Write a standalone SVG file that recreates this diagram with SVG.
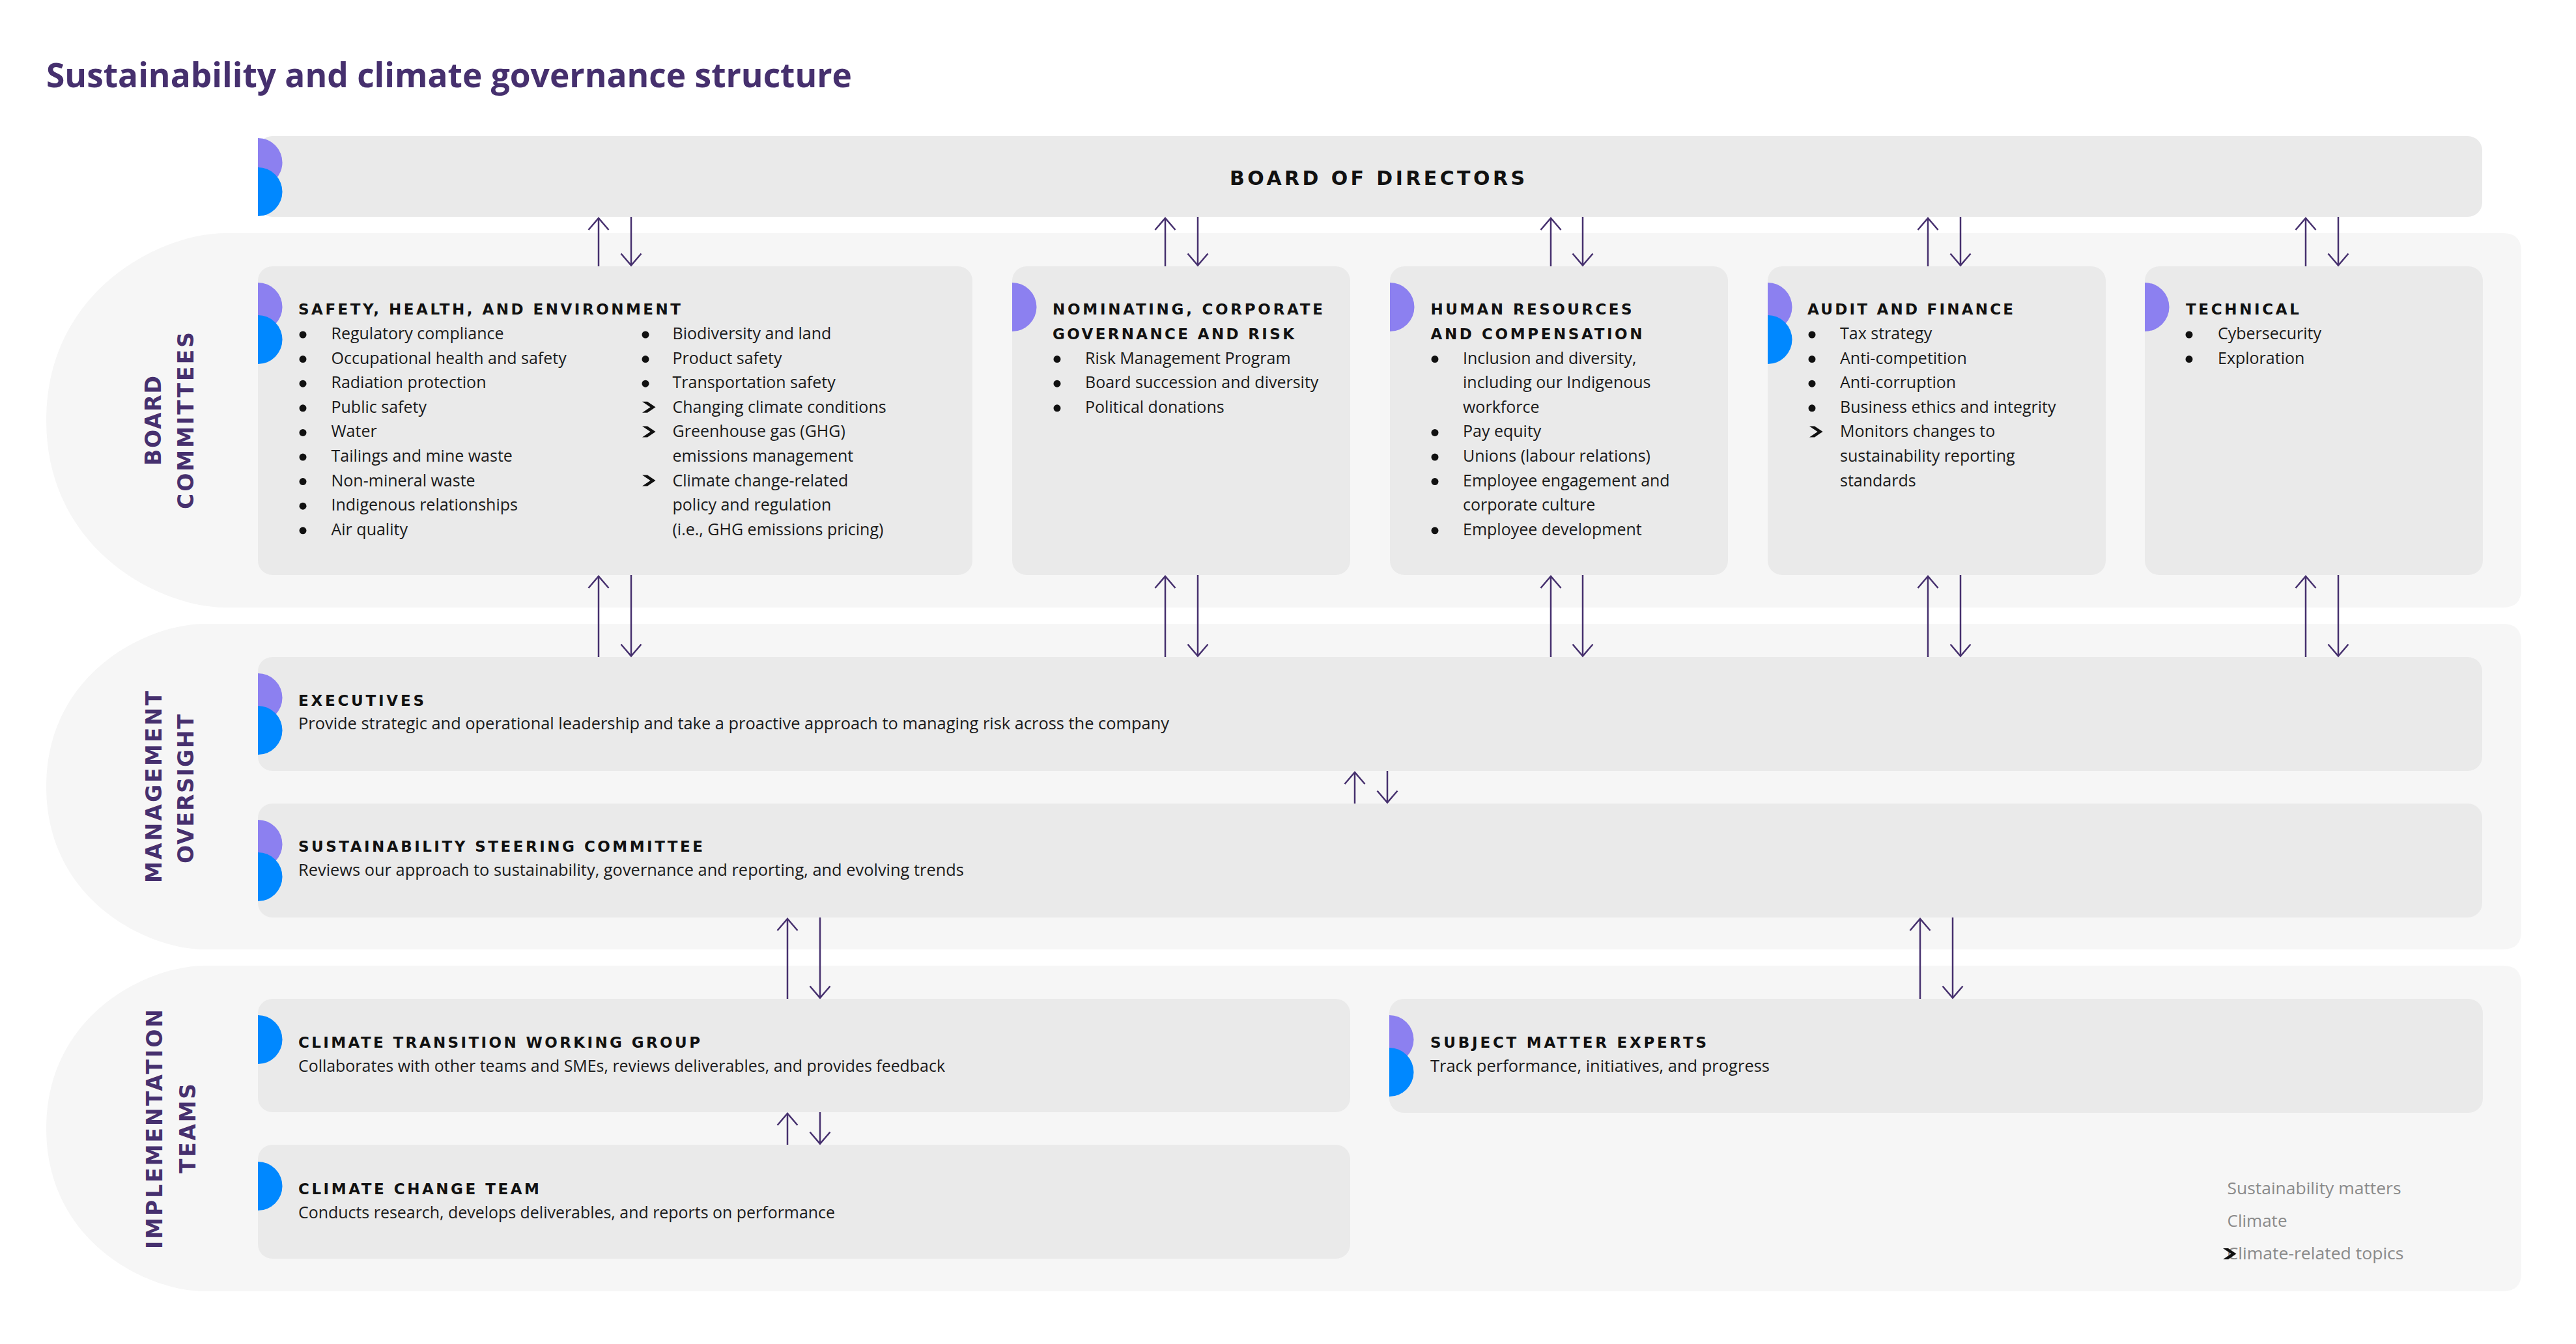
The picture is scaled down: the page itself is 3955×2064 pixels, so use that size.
<svg xmlns="http://www.w3.org/2000/svg" width="3955" height="2064" viewBox="0 0 3955 2064">
<style>
.band{fill:#f6f6f6}
.box{fill:#eaeaea}
.p{fill:#8c80f0}
.b{fill:#0088ff}
.h{font-family:"DejaVu Sans",Inter,"Liberation Sans",sans-serif;font-weight:700;font-size:23px;fill:#111}
.hb{font-family:"DejaVu Sans",Inter,"Liberation Sans",sans-serif;font-weight:700;font-size:30px;fill:#111}
.t{font-family:"Open Sans","Liberation Sans",sans-serif;font-weight:400;font-size:25px;fill:#1a1a1a}
.lg{font-family:"Open Sans","Liberation Sans",sans-serif;font-weight:400;font-size:25.5px;fill:#8a8a8a}
.lbl{font-family:"DejaVu Sans",Inter,"Liberation Sans",sans-serif;font-weight:700;font-size:33px;fill:#46306e}
.title{font-family:"Open Sans","Liberation Sans",sans-serif;font-weight:700;font-size:52px;fill:#46306e}
.dot{fill:#111}
.conn line{stroke:#46306e;stroke-width:2.5;fill:none;marker-end:url(#ah)}
</style>
<defs>
<marker id="ah" markerUnits="userSpaceOnUse" markerWidth="40" markerHeight="40" refX="20" refY="20" orient="auto" overflow="visible">
<path d="M2,4.5 L20,20 L2,35.5" fill="none" stroke="#46306e" stroke-width="2.5"/>
</marker>
<path id="chev" d="M0,0 H8 L20.5,8.5 L8,17 H0 L12.5,8.5 Z" fill="#111"/>
</defs>
<rect width="3955" height="2064" fill="#fff"/>
<text class="title" x="71" y="134" textLength="1237" lengthAdjust="spacingAndGlyphs">Sustainability and climate governance structure</text>

<g id="bands">
<path class="band" d="M346,358 H3843 Q3871,358 3871,386 V905 Q3871,933 3843,933 H346 C246,933 71,845 71,645.5 C71,446 246,358 346,358 Z"/>
<path class="band" d="M315,958 H3843 Q3871,958 3871,986 V1430 Q3871,1458 3843,1458 H315 C225,1458 71,1382 71,1208 C71,1034 225,958 315,958 Z"/>
<path class="band" d="M315,1483 H3843 Q3871,1483 3871,1511 V1955 Q3871,1983 3843,1983 H315 C225,1983 71,1907 71,1733 C71,1559 225,1483 315,1483 Z"/>
<text class="lbl" transform="translate(247,646) rotate(-90)" text-anchor="middle" textLength="138" lengthAdjust="spacing">BOARD</text>
<text class="lbl" transform="translate(297,646) rotate(-90)" text-anchor="middle" textLength="272" lengthAdjust="spacing">COMMITTEES</text>
<text class="lbl" transform="translate(248,1208.5) rotate(-90)" text-anchor="middle" textLength="295" lengthAdjust="spacing">MANAGEMENT</text>
<text class="lbl" transform="translate(297,1211.5) rotate(-90)" text-anchor="middle" textLength="229" lengthAdjust="spacing">OVERSIGHT</text>
<text class="lbl" transform="translate(249,1734) rotate(-90)" text-anchor="middle" textLength="368" lengthAdjust="spacing">IMPLEMENTATION</text>
<text class="lbl" transform="translate(300,1733) rotate(-90)" text-anchor="middle" textLength="138" lengthAdjust="spacing">TEAMS</text>
</g>

<g id="board-of-directors">
<rect class="box" x="396" y="209" width="3415" height="124" rx="22"/>
<path class="p" d="M396,212 A37.5,37.5 0 0 1 396,287 Z"/>
<path class="b" d="M396,257 A37.5,37.5 0 0 1 396,332 Z"/>
<text class="hb" x="1888" y="284" textLength="453" lengthAdjust="spacing">BOARD OF DIRECTORS</text>
</g>

<g id="safety-health-environment">
<rect class="box" x="396" y="409" width="1097" height="474" rx="22"/>
<path class="p" d="M396,434 A37.5,37.5 0 0 1 396,509 Z"/>
<path class="b" d="M396,484 A37.5,37.5 0 0 1 396,559 Z"/>
<text class="h" x="458" y="483.3" textLength="587" lengthAdjust="spacing">SAFETY, HEALTH, AND ENVIRONMENT</text>
<circle class="dot" cx="465" cy="514" r="5.5"/><text class="t" x="508.5" y="521">Regulatory compliance</text>
<circle class="dot" cx="465" cy="551.6" r="5.5"/><text class="t" x="508.5" y="558.6">Occupational health and safety</text>
<circle class="dot" cx="465" cy="589.2" r="5.5"/><text class="t" x="508.5" y="596.2">Radiation protection</text>
<circle class="dot" cx="465" cy="626.8" r="5.5"/><text class="t" x="508.5" y="633.8">Public safety</text>
<circle class="dot" cx="465" cy="664.4" r="5.5"/><text class="t" x="508.5" y="671.4">Water</text>
<circle class="dot" cx="465" cy="702" r="5.5"/><text class="t" x="508.5" y="709">Tailings and mine waste</text>
<circle class="dot" cx="465" cy="739.6" r="5.5"/><text class="t" x="508.5" y="746.6">Non-mineral waste</text>
<circle class="dot" cx="465" cy="777.2" r="5.5"/><text class="t" x="508.5" y="784.2">Indigenous relationships</text>
<circle class="dot" cx="465" cy="814.8" r="5.5"/><text class="t" x="508.5" y="821.8">Air quality</text>
<circle class="dot" cx="991" cy="514" r="5.5"/><text class="t" x="1032.5" y="521">Biodiversity and land</text>
<circle class="dot" cx="991" cy="551.6" r="5.5"/><text class="t" x="1032.5" y="558.6">Product safety</text>
<circle class="dot" cx="991" cy="589.2" r="5.5"/><text class="t" x="1032.5" y="596.2">Transportation safety</text>
<use href="#chev" x="986" y="616.8"/><text class="t" x="1032.5" y="633.8">Changing climate conditions</text>
<use href="#chev" x="986" y="654.4"/><text class="t" x="1032.5" y="671.4">Greenhouse gas (GHG)</text>
<text class="t" x="1032.5" y="709">emissions management</text>
<use href="#chev" x="986" y="729.6"/><text class="t" x="1032.5" y="746.6">Climate change-related</text>
<text class="t" x="1032.5" y="784.2">policy and regulation</text>
<text class="t" x="1032.5" y="821.8">(i.e., GHG emissions pricing)</text>
</g>

<g id="nominating-governance-risk">
<rect class="box" x="1554" y="409" width="519" height="474" rx="22"/>
<path class="p" d="M1554,434 A37.5,37.5 0 0 1 1554,509 Z"/>
<text class="h" x="1616" y="483.3" textLength="415" lengthAdjust="spacing">NOMINATING, CORPORATE</text>
<text class="h" x="1616" y="520.5" textLength="371" lengthAdjust="spacing">GOVERNANCE AND RISK</text>
<circle class="dot" cx="1623" cy="551.6" r="5.5"/><text class="t" x="1666" y="558.6">Risk Management Program</text>
<circle class="dot" cx="1623" cy="589.2" r="5.5"/><text class="t" x="1666" y="596.2">Board succession and diversity</text>
<circle class="dot" cx="1623" cy="626.8" r="5.5"/><text class="t" x="1666" y="633.8">Political donations</text>
</g>

<g id="human-resources-compensation">
<rect class="box" x="2134" y="409" width="519" height="474" rx="22"/>
<path class="p" d="M2134,434 A37.5,37.5 0 0 1 2134,509 Z"/>
<text class="h" x="2196.5" y="483.3" textLength="309" lengthAdjust="spacing">HUMAN RESOURCES</text>
<text class="h" x="2196.5" y="520.5" textLength="325" lengthAdjust="spacing">AND COMPENSATION</text>
<circle class="dot" cx="2203" cy="551.6" r="5.5"/><text class="t" x="2246" y="558.6">Inclusion and diversity,</text>
<text class="t" x="2246" y="596.2">including our Indigenous</text>
<text class="t" x="2246" y="633.8">workforce</text>
<circle class="dot" cx="2203" cy="664.4" r="5.5"/><text class="t" x="2246" y="671.4">Pay equity</text>
<circle class="dot" cx="2203" cy="702" r="5.5"/><text class="t" x="2246" y="709">Unions (labour relations)</text>
<circle class="dot" cx="2203" cy="739.6" r="5.5"/><text class="t" x="2246" y="746.6">Employee engagement and</text>
<text class="t" x="2246" y="784.2">corporate culture</text>
<circle class="dot" cx="2203" cy="814.8" r="5.5"/><text class="t" x="2246" y="821.8">Employee development</text>
</g>

<g id="audit-finance">
<rect class="box" x="2714" y="409" width="519" height="474" rx="22"/>
<path class="p" d="M2714,434 A37.5,37.5 0 0 1 2714,509 Z"/>
<path class="b" d="M2714,484 A37.5,37.5 0 0 1 2714,559 Z"/>
<text class="h" x="2775" y="483.3" textLength="316" lengthAdjust="spacing">AUDIT AND FINANCE</text>
<circle class="dot" cx="2782" cy="514" r="5.5"/><text class="t" x="2825" y="521">Tax strategy</text>
<circle class="dot" cx="2782" cy="551.6" r="5.5"/><text class="t" x="2825" y="558.6">Anti-competition</text>
<circle class="dot" cx="2782" cy="589.2" r="5.5"/><text class="t" x="2825" y="596.2">Anti-corruption</text>
<circle class="dot" cx="2782" cy="626.8" r="5.5"/><text class="t" x="2825" y="633.8">Business ethics and integrity</text>
<use href="#chev" x="2778" y="654.4"/><text class="t" x="2825" y="671.4">Monitors changes to</text>
<text class="t" x="2825" y="709">sustainability reporting</text>
<text class="t" x="2825" y="746.6">standards</text>
</g>

<g id="technical">
<rect class="box" x="3293" y="409" width="519" height="474" rx="22"/>
<path class="p" d="M3293,434 A37.5,37.5 0 0 1 3293,509 Z"/>
<text class="h" x="3356" y="483.3" textLength="174" lengthAdjust="spacing">TECHNICAL</text>
<circle class="dot" cx="3361" cy="514" r="5.5"/><text class="t" x="3405" y="521">Cybersecurity</text>
<circle class="dot" cx="3361" cy="551.6" r="5.5"/><text class="t" x="3405" y="558.6">Exploration</text>
</g>

<g id="executives">
<rect class="box" x="396" y="1009" width="3415" height="175" rx="22"/>
<path class="p" d="M396,1034 A37.5,37.5 0 0 1 396,1109 Z"/>
<path class="b" d="M396,1084 A37.5,37.5 0 0 1 396,1159 Z"/>
<text class="h" x="458" y="1083.5" textLength="193" lengthAdjust="spacing">EXECUTIVES</text>
<text class="t" x="458" y="1120" textLength="1337" lengthAdjust="spacingAndGlyphs">Provide strategic and operational leadership and take a proactive approach to managing risk across the company</text>
</g>

<g id="sustainability-steering-committee">
<rect class="box" x="396" y="1234" width="3415" height="175" rx="22"/>
<path class="p" d="M396,1259 A37.5,37.5 0 0 1 396,1334 Z"/>
<path class="b" d="M396,1309 A37.5,37.5 0 0 1 396,1384 Z"/>
<text class="h" x="458" y="1308" textLength="621" lengthAdjust="spacing">SUSTAINABILITY STEERING COMMITTEE</text>
<text class="t" x="458" y="1345" textLength="1022" lengthAdjust="spacingAndGlyphs">Reviews our approach to sustainability, governance and reporting, and evolving trends</text>
</g>

<g id="climate-transition-working-group">
<rect class="box" x="396" y="1534" width="1677" height="174" rx="22"/>
<path class="b" d="M396,1559 A37.5,37.5 0 0 1 396,1634 Z"/>
<text class="h" x="458" y="1608.6" textLength="617" lengthAdjust="spacing">CLIMATE TRANSITION WORKING GROUP</text>
<text class="t" x="458" y="1646" textLength="993" lengthAdjust="spacingAndGlyphs">Collaborates with other teams and SMEs, reviews deliverables, and provides feedback</text>
</g>

<g id="climate-change-team">
<rect class="box" x="396" y="1758" width="1677" height="175" rx="22"/>
<path class="b" d="M396,1784 A37.5,37.5 0 0 1 396,1859 Z"/>
<text class="h" x="458" y="1834" textLength="370" lengthAdjust="spacing">CLIMATE CHANGE TEAM</text>
<text class="t" x="458" y="1871" textLength="824" lengthAdjust="spacingAndGlyphs">Conducts research, develops deliverables, and reports on performance</text>
</g>

<g id="subject-matter-experts">
<rect class="box" x="2133" y="1534" width="1679" height="175" rx="22"/>
<path class="p" d="M2133,1559 A37.5,37.5 0 0 1 2133,1634 Z"/>
<path class="b" d="M2133,1609 A37.5,37.5 0 0 1 2133,1684 Z"/>
<text class="h" x="2196" y="1608.6" textLength="424" lengthAdjust="spacing">SUBJECT MATTER EXPERTS</text>
<text class="t" x="2196" y="1646" textLength="521" lengthAdjust="spacingAndGlyphs">Track performance, initiatives, and progress</text>
</g>

<g id="legend">
<text class="lg" x="3419.5" y="1833.6" textLength="267" lengthAdjust="spacingAndGlyphs">Sustainability matters</text>
<text class="lg" x="3419.5" y="1883.7" textLength="92" lengthAdjust="spacingAndGlyphs">Climate</text>
<text class="lg" x="3419.5" y="1933.8" textLength="271" lengthAdjust="spacingAndGlyphs">Climate-related topics</text>
<use href="#chev" x="3413" y="1917"/>
</g>

<g id="connectors" class="conn">
<line x1="919" y1="409" x2="919" y2="335"/><line x1="969" y1="333" x2="969" y2="407.5"/>
<line x1="1789" y1="409" x2="1789" y2="335"/><line x1="1839" y1="333" x2="1839" y2="407.5"/>
<line x1="2381" y1="409" x2="2381" y2="335"/><line x1="2430" y1="333" x2="2430" y2="407.5"/>
<line x1="2960" y1="409" x2="2960" y2="335"/><line x1="3010" y1="333" x2="3010" y2="407.5"/>
<line x1="3540" y1="409" x2="3540" y2="335"/><line x1="3590" y1="333" x2="3590" y2="407.5"/>
<line x1="919" y1="1009" x2="919" y2="885"/><line x1="969" y1="883" x2="969" y2="1007.5"/>
<line x1="1789" y1="1009" x2="1789" y2="885"/><line x1="1839" y1="883" x2="1839" y2="1007.5"/>
<line x1="2381" y1="1009" x2="2381" y2="885"/><line x1="2430" y1="883" x2="2430" y2="1007.5"/>
<line x1="2960" y1="1009" x2="2960" y2="885"/><line x1="3010" y1="883" x2="3010" y2="1007.5"/>
<line x1="3540" y1="1009" x2="3540" y2="885"/><line x1="3590" y1="883" x2="3590" y2="1007.5"/>
<line x1="2080" y1="1234" x2="2080" y2="1186"/><line x1="2130" y1="1184" x2="2130" y2="1232.5"/>
<line x1="1209" y1="1534" x2="1209" y2="1411"/><line x1="1259" y1="1409" x2="1259" y2="1532.5"/>
<line x1="2948" y1="1534" x2="2948" y2="1411"/><line x1="2998" y1="1409" x2="2998" y2="1532.5"/>
<line x1="1209" y1="1758" x2="1209" y2="1710"/><line x1="1259" y1="1708" x2="1259" y2="1756.5"/>
</g>
</svg>
